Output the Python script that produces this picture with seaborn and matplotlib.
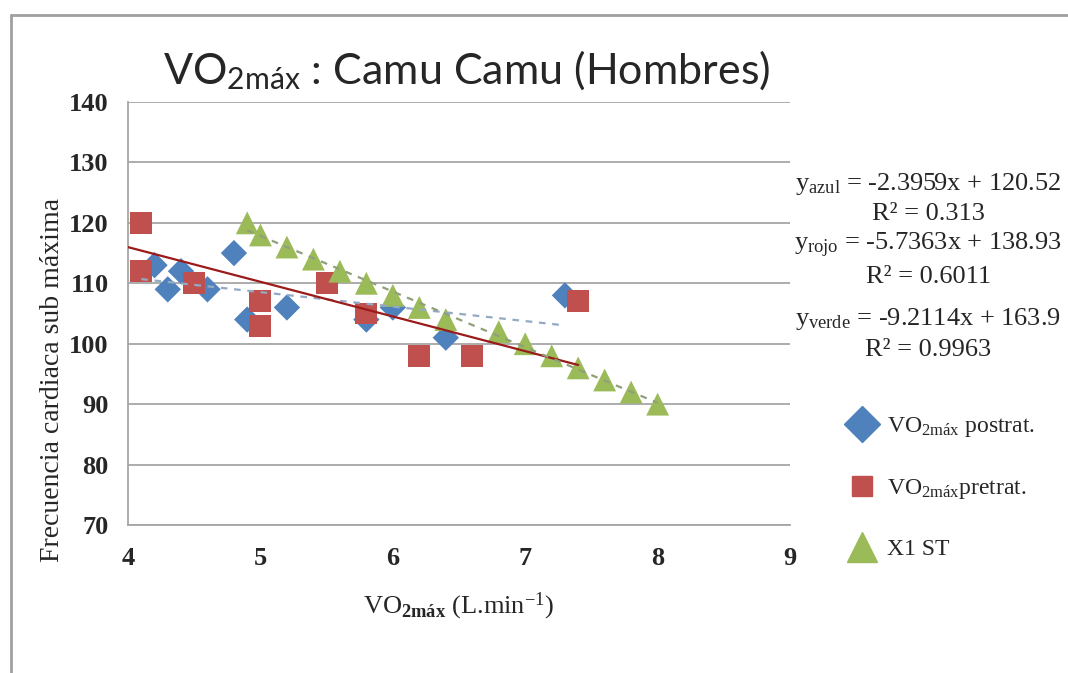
import numpy as np
import pandas as pd
import matplotlib
matplotlib.use("Agg")
import matplotlib.pyplot as plt
from matplotlib.lines import Line2D
import seaborn as sns

# ---- data ----
post_x = [4.2, 4.3, 4.4, 4.6, 4.8, 4.9, 5.2, 5.8, 6.0, 6.4, 7.3]
post_y = [113, 109, 112, 109, 115, 104, 106, 104, 106, 101, 108]
pre_x = [4.1, 4.1, 4.5, 5.0, 5.0, 5.5, 5.8, 6.2, 6.6, 7.4]
pre_y = [120, 112, 110, 107, 103, 110, 105, 98, 98, 107]
st_x = [4.9, 5.0, 5.2, 5.4, 5.6, 5.8, 6.0, 6.2, 6.4, 6.8, 7.0, 7.2, 7.4, 7.6, 7.8, 8.0]
st_y = [120, 118, 116, 114, 112, 110, 108, 106, 104, 102, 100, 98, 96, 94, 92, 90]

series_names = ["VO2máx postrat.", "VO2máxpretrat.", "X1 ST"]
slopes = [-2.3959, -5.7363, -9.2114]
intercepts = [120.52, 138.93, 163.9]
r2 = ["0.313", "0.6011", "0.9963"]
trend_ranges = [(4.1, 7.3), (4.0, 7.4), (4.9, 8.0)]
y_ticks = [70, 80, 90, 100, 110, 120, 130, 140]
x_ticks = [4, 5, 6, 7, 8, 9]

sns.set_style("white")
plt.rcParams["font.family"] = ["Liberation Serif", "DejaVu Serif"]
plt.rcParams["mathtext.fontset"] = "custom"
plt.rcParams["mathtext.rm"] = "Liberation Serif"
plt.rcParams["mathtext.it"] = "Liberation Serif:italic"
plt.rcParams["mathtext.bf"] = "Liberation Serif:bold"
plt.rcParams["mathtext.sf"] = "Lato"

fig = plt.figure(figsize=(10.68, 6.73), dpi=100)
ax = fig.add_axes([0.1199, 0.2199, 0.6198, 0.6285])

blue = "#4F81BD"
red = "#C0504D"
green = "#9BBB59"

trend_styles = [dict(color="#93A9C4", linestyle=(0, (3, 3)), linewidth=1.6),
                dict(color="#9B1B1B", linestyle="-", linewidth=1.6),
                dict(color="#8FA07A", linestyle=(0, (3, 3)), linewidth=1.6)]

df_post = pd.DataFrame({"x": post_x, "y": post_y})
df_pre = pd.DataFrame({"x": pre_x, "y": pre_y})
df_st = pd.DataFrame({"x": st_x, "y": st_y})

sns.scatterplot(data=df_post, x="x", y="y", marker="D", s=180, color=blue,
                edgecolor="none", ax=ax, zorder=3)
sns.scatterplot(data=df_pre, x="x", y="y", marker="s", s=250, color=red,
                edgecolor="none", ax=ax, zorder=3)
sns.scatterplot(data=df_st, x="x", y="y", marker="^", s=270, color=green,
                edgecolor="none", ax=ax, zorder=4)

for (a, b), m, c, st in zip(trend_ranges, slopes, intercepts, trend_styles):
    xs = np.array([a, b])
    tdf = pd.DataFrame({"x": xs, "y": m * xs + c})
    sns.lineplot(data=tdf, x="x", y="y", ax=ax, zorder=5, **st)

ax.set_xlim(4, 9)
ax.set_ylim(70, 140)
ax.set_xticks(x_ticks)
ax.set_yticks(y_ticks)
ax.grid(axis="y", color="#A6A6A6", linewidth=1.3)
ax.grid(axis="x", visible=False)
for side in ["top", "right"]:
    ax.spines[side].set_visible(False)
for side in ["left", "bottom"]:
    ax.spines[side].set_color("#A6A6A6")
    ax.spines[side].set_linewidth(1.3)
ax.tick_params(axis="both", direction="out", length=7, width=1.2, color="#A6A6A6",
               labelsize=19)
ax.tick_params(axis="y", pad=7)
ax.tick_params(axis="x", pad=9)
for lab in ax.get_xticklabels() + ax.get_yticklabels():
    lab.set_fontweight("bold")

ax.set_ylabel("Frecuencia cardiaca sub máxima", fontsize=20)
ax.yaxis.set_label_coords(-0.096, 0.343)
ax.set_xlabel(r"VO$_{\mathbf{2máx}}$ (L.min$^{\mathrm{-1}}$)", fontsize=19)
ax.xaxis.set_label_coords(0.5, -0.155)

# title
fig.text(0.437, 0.896, r"VO$_{\mathsf{2máx}}$ : Camu Camu (Hombres)",
         fontsize=31, family="Lato", ha="center", va="center")

# equations
eq_x = 0.869
eq_rows = [0.727, 0.682, 0.635, 0.588, 0.526, 0.480]
subs = ["azul", "rojo", "verde"]
for i in range(3):
    fig.text(eq_x, eq_rows[2 * i],
             r"y$_{\mathrm{%s}}$ = %sx + %s" % (subs[i], f"{slopes[i]}", f"{intercepts[i]}"),
             fontsize=19, ha="center", va="center")
    fig.text(eq_x, eq_rows[2 * i + 1], "R² = " + r2[i],
             fontsize=19, ha="center", va="center")

# legend
handles = [Line2D([], [], marker="D", color=blue, linestyle="none", markersize=18),
           Line2D([], [], marker="s", color=red, linestyle="none", markersize=15),
           Line2D([], [], marker="^", color=green, linestyle="none", markersize=21)]
labels = [r"VO$_{\mathrm{2máx}}$ postrat.", r"VO$_{\mathrm{2máx}}$pretrat.", "X1 ST"]
fig.legend(handles, labels, loc="upper left", bbox_to_anchor=(0.776, 0.397),
           frameon=False, fontsize=17, labelspacing=1.6, handletextpad=0.05,
           borderaxespad=0)

# outer border (top & left)
fig.add_artist(Line2D([0.0103, 1.0], [0.978, 0.978], transform=fig.transFigure,
                      color="#A0A0A0", linewidth=2))
fig.add_artist(Line2D([0.0103, 0.0103], [0.0, 0.978], transform=fig.transFigure,
                      color="#A0A0A0", linewidth=2))

fig.savefig("out.png", dpi=100)
